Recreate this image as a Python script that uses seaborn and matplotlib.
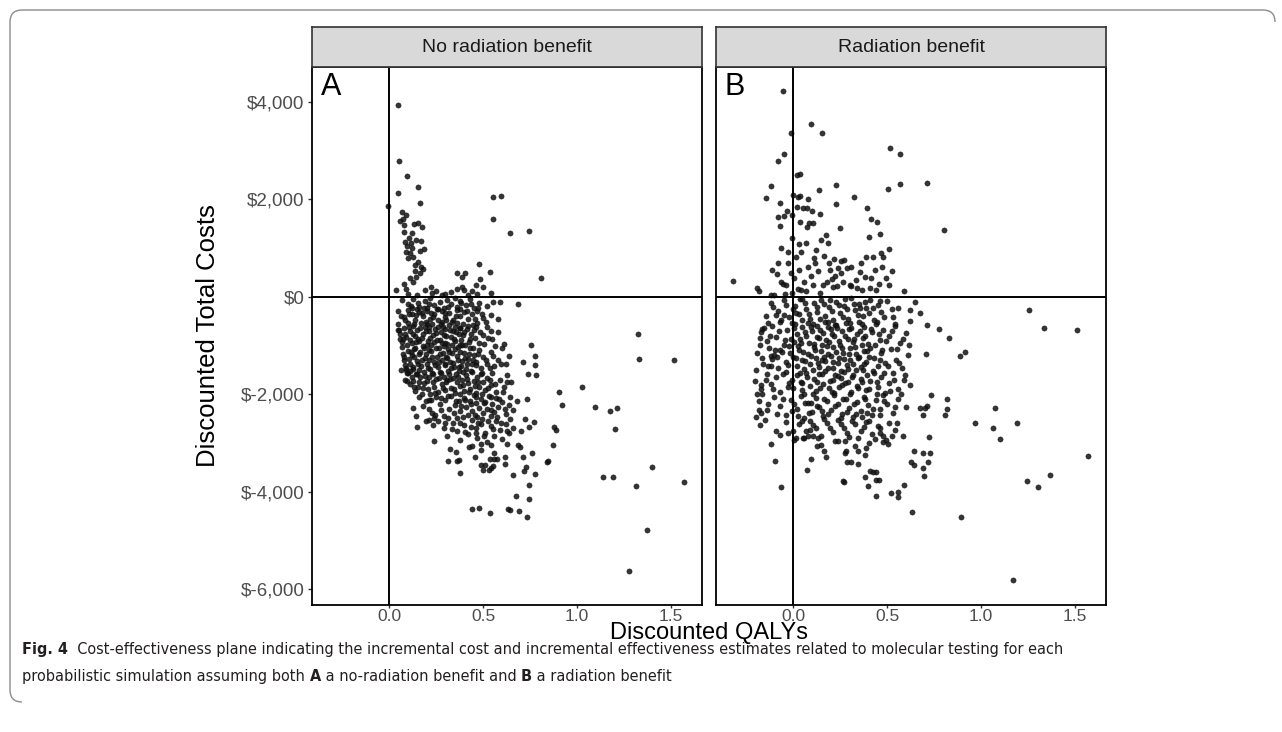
from __future__ import annotations

import matplotlib
matplotlib.use("Agg")
import matplotlib.pyplot as plt
import matplotlib.ticker as mticker
from matplotlib.patches import PathPatch
from matplotlib.path import Path as MPath
import pandas as pd
import seaborn as sns


W, H = 1282, 732

panels = ["No radiation benefit", "Radiation benefit"]
panel_letters = ["A", "B"]
x_ticks = [0.0, 0.5, 1.0, 1.5]
x_tick_labels = ["0.0", "0.5", "1.0", "1.5"]
y_ticks = [-6000, -4000, -2000, 0, 2000, 4000]

# Panel A: no radiation benefit (QALYs, cost)
no_rad_upper = [
    (0.05, 3930), (0.054, 2790), (0.097, 2480), (0.155, 2263), (0.045, 2127), (0.164, 1935),
    (-0.006, 1873), (0.552, 2058), (0.597, 2079), (0.552, 1594), (0.645, 1320), (0.744, 1354),
    (0.806, 383), (0.48, 671), (0.538, 506), (0.485, 363), (0.363, 486), (0.387, 417),
    (0.405, 499), (0.465, 246), (0.501, 199), (0.545, 82), (0.39, 200), (0.40, 130),
    (0.42, 30), (0.221, 211), (0.226, 88), (0.295, 55), (0.038, 144), (0.079, 267),
    (0.091, 157), (0.15, 40), (0.07, 1750), (0.088, 1670), (0.077, 1477), (0.079, 1340),
    (0.132, 1497), (0.153, 1525), (0.173, 1442), (0.123, 1306), (0.104, 1204), (0.084, 1134),
    (0.145, 1169), (0.169, 1155), (0.185, 991), (0.091, 929), (0.109, 909), (0.10, 794),
    (0.127, 827), (0.162, 937), (0.155, 718), (0.136, 540), (0.145, 417), (0.18, 568),
    (0.162, 486), (0.109, 384), (0.075, 1600), (0.095, 1050), (0.12, 1000), (0.14, 650),
    (0.17, 620), (0.06, 1550), (0.115, 1100), (0.13, 300), (0.19, 150), (0.10, 60),
    (0.25, 120), (0.33, 90), (0.28, 30), (0.36, 160), (0.44, 110), (0.47, 60),
]
no_rad_core = [
    (0.07, -60), (0.10, -150), (0.13, -40), (0.16, -200), (0.19, -90), (0.22, -30),
    (0.24, -170), (0.27, -110), (0.29, -220), (0.31, -60), (0.33, -140), (0.36, -200),
    (0.38, -80), (0.41, -160), (0.43, -40), (0.45, -230), (0.48, -120), (0.52, -190),
    (0.12, -230), (0.20, -240), (0.35, -20), (0.26, -250), (0.554, -109), (0.588, -109),
    (0.684, -144),
    (0.05, -300), (0.08, -420), (0.10, -280), (0.12, -360), (0.14, -470), (0.16, -310),
    (0.18, -400), (0.20, -290), (0.22, -450), (0.24, -350), (0.26, -480), (0.28, -300),
    (0.30, -410), (0.32, -330), (0.34, -470), (0.36, -280), (0.38, -390), (0.40, -320),
    (0.42, -460), (0.44, -360), (0.47, -300), (0.50, -430), (0.54, -380), (0.58, -460),
    (0.15, -260),
    (0.05, -560), (0.06, -760), (0.07, -920), (0.08, -640), (0.09, -830), (0.10, -540),
    (0.11, -710), (0.12, -950), (0.13, -600), (0.14, -800), (0.15, -680), (0.16, -900),
    (0.17, -530), (0.18, -770), (0.19, -620), (0.20, -980), (0.21, -700), (0.22, -850),
    (0.23, -560), (0.24, -930), (0.25, -740), (0.26, -610), (0.27, -880), (0.28, -520),
    (0.29, -790), (0.30, -660), (0.31, -960), (0.32, -580), (0.33, -820), (0.34, -700),
    (0.35, -900), (0.36, -540), (0.37, -760), (0.38, -640), (0.39, -980), (0.40, -720),
    (0.42, -600), (0.43, -870), (0.45, -680), (0.47, -540), (0.48, -940), (0.50, -780),
    (0.52, -620), (0.55, -860), (0.58, -720), (0.61, -960), (0.20, -560), (0.28, -950),
    (0.11, -880), (0.35, -610),
    (0.07, -1040), (0.08, -1290), (0.09, -1460), (0.10, -1120), (0.11, -1370), (0.12, -1200),
    (0.13, -1490), (0.14, -1060), (0.15, -1310), (0.16, -1180), (0.17, -1420), (0.18, -1010),
    (0.19, -1260), (0.20, -1390), (0.21, -1100), (0.22, -1480), (0.23, -1230), (0.24, -1340),
    (0.25, -1060), (0.26, -1450), (0.27, -1170), (0.28, -1300), (0.29, -1020), (0.30, -1410),
    (0.31, -1250), (0.32, -1130), (0.33, -1470), (0.34, -1360), (0.35, -1080), (0.36, -1210),
    (0.37, -1440), (0.38, -1000), (0.39, -1320), (0.40, -1150), (0.41, -1480), (0.42, -1270),
    (0.43, -1050), (0.44, -1390), (0.45, -1190), (0.46, -1330), (0.48, -1090), (0.49, -1460),
    (0.50, -1240), (0.52, -1370), (0.54, -1140), (0.56, -1420), (0.58, -1290), (0.60, -1050),
    (0.62, -1380), (0.64, -1210), (0.16, -1500),
    (0.10, -1560), (0.11, -1800), (0.12, -1650), (0.14, -1940), (0.15, -1590), (0.16, -1760),
    (0.18, -1880), (0.19, -1620), (0.20, -1730), (0.22, -1990), (0.23, -1570), (0.24, -1850),
    (0.25, -1690), (0.26, -1960), (0.27, -1540), (0.28, -1790), (0.29, -1640), (0.30, -1910),
    (0.31, -1710), (0.32, -1580), (0.33, -1870), (0.34, -1660), (0.35, -1980), (0.36, -1760),
    (0.37, -1530), (0.38, -1830), (0.39, -1700), (0.40, -1930), (0.41, -1600), (0.42, -1780),
    (0.43, -1890), (0.44, -1550), (0.45, -1720), (0.46, -1970), (0.47, -1640), (0.48, -1850),
    (0.49, -1580), (0.50, -1760), (0.51, -1920), (0.52, -1670), (0.54, -1820), (0.55, -1560),
    (0.57, -1950), (0.59, -1700), (0.61, -1860), (0.63, -1610), (0.65, -1750),
    (0.16, -2050), (0.18, -2250), (0.21, -2120), (0.23, -2380), (0.25, -2060), (0.27, -2200),
    (0.29, -2450), (0.30, -2110), (0.32, -2310), (0.33, -2040), (0.35, -2230), (0.36, -2480),
    (0.37, -2150), (0.38, -2340), (0.40, -2070), (0.41, -2260), (0.42, -2420), (0.43, -2130),
    (0.44, -2350), (0.45, -2010), (0.46, -2190), (0.47, -2470), (0.48, -2280), (0.49, -2090),
    (0.50, -2390), (0.51, -2170), (0.52, -2300), (0.53, -2030), (0.54, -2440), (0.55, -2210),
    (0.56, -2360), (0.57, -2080), (0.58, -2270), (0.60, -2160), (0.62, -2410), (0.64, -2230),
    (0.66, -2320), (0.68, -2140),
    (0.26, -2560), (0.29, -2700), (0.31, -2850), (0.34, -2600), (0.36, -2760), (0.38, -2950),
    (0.40, -2640), (0.42, -2820), (0.44, -2540), (0.46, -2700), (0.47, -2900), (0.49, -2610),
    (0.51, -2790), (0.52, -2980), (0.54, -2660), (0.56, -2850), (0.57, -2560), (0.59, -2730),
    (0.60, -2920), (0.62, -2620), (0.64, -2800), (0.66, -2700),
]
no_rad_dense = [
    (0.085, -480), (0.115, -190), (0.135, -560), (0.155, -120), (0.175, -330), (0.195, -520),
    (0.215, -150), (0.235, -420), (0.255, -260), (0.275, -560), (0.295, -340), (0.315, -200),
    (0.335, -520), (0.355, -390), (0.375, -250), (0.395, -560), (0.415, -300), (0.435, -150),
    (0.455, -460), (0.475, -220), (0.495, -350), (0.515, -520), (0.065, -400), (0.105, -350),
    (0.145, -380), (0.225, -330), (0.305, -470), (0.385, -120), (0.445, -580), (0.185, -230),
    (0.055, -680), (0.075, -860), (0.095, -1000), (0.105, -620), (0.125, -760), (0.135, -1080),
    (0.145, -930), (0.165, -640), (0.175, -840), (0.185, -1050), (0.195, -710), (0.205, -900),
    (0.215, -620), (0.225, -1000), (0.235, -780), (0.245, -660), (0.255, -880), (0.265, -1060),
    (0.275, -720), (0.285, -620), (0.295, -940), (0.305, -800), (0.315, -1080), (0.325, -680),
    (0.335, -990), (0.345, -860), (0.355, -730), (0.365, -1040), (0.375, -640), (0.385, -880),
    (0.395, -780), (0.405, -1000), (0.415, -660), (0.425, -930), (0.435, -760), (0.445, -1060),
    (0.455, -840), (0.465, -620), (0.485, -720), (0.505, -960), (0.525, -840), (0.545, -700),
    (0.565, -1020), (0.085, -760), (0.155, -860),
    (0.075, -1170), (0.085, -1400), (0.095, -1560), (0.105, -1280), (0.115, -1130), (0.125, -1450),
    (0.135, -1230), (0.145, -1590), (0.155, -1370), (0.165, -1140), (0.175, -1290), (0.185, -1540),
    (0.195, -1180), (0.205, -1460), (0.215, -1300), (0.225, -1120), (0.235, -1580), (0.245, -1410),
    (0.255, -1230), (0.265, -1340), (0.275, -1560), (0.285, -1150), (0.295, -1380), (0.305, -1240),
    (0.315, -1520), (0.325, -1330), (0.335, -1160), (0.345, -1450), (0.355, -1580), (0.365, -1300),
    (0.375, -1130), (0.385, -1420), (0.395, -1550), (0.405, -1250), (0.415, -1370), (0.425, -1180),
    (0.435, -1520), (0.445, -1290), (0.465, -1410), (0.475, -1180), (0.495, -1560), (0.515, -1300),
    (0.535, -1460), (0.555, -1220), (0.595, -1380),
    (0.125, -1720), (0.135, -1860), (0.165, -1650), (0.175, -2000), (0.185, -1780), (0.205, -1900),
    (0.215, -1640), (0.225, -2120), (0.235, -1760), (0.245, -1980), (0.265, -1660), (0.275, -2080),
    (0.285, -1870), (0.305, -1750), (0.315, -2040), (0.325, -1690), (0.345, -1900), (0.355, -2150),
    (0.365, -1640), (0.375, -2000), (0.395, -1820), (0.405, -2120), (0.415, -1690), (0.425, -1950),
    (0.435, -2200), (0.455, -1830), (0.465, -2060), (0.475, -1740), (0.495, -1990), (0.505, -2180),
    (0.525, -1880), (0.535, -1700), (0.545, -2060), (0.565, -1800), (0.585, -2100), (0.605, -1960),
    (0.625, -1760), (0.645, -2050), (0.195, -2150), (0.155, -1850),
    (0.215, -2300), (0.245, -2420), (0.275, -2330), (0.295, -2600), (0.315, -2480), (0.345, -2380),
    (0.375, -2600), (0.395, -2460), (0.405, -2780), (0.435, -2680), (0.455, -2420), (0.475, -2600),
    (0.495, -2500), (0.505, -2860), (0.525, -2560), (0.545, -2320), (0.555, -2720), (0.575, -2460),
    (0.595, -2600), (0.615, -2300), (0.625, -2760), (0.645, -2500), (0.385, -2240), (0.465, -2800),
    (0.335, -2720),
]
no_rad_tail = [
    (1.327, -766), (1.332, -1278), (1.517, -1299), (1.026, -1846), (1.098, -2256), (1.177, -2352),
    (1.212, -2277), (1.203, -2714), (0.902, -1949), (0.918, -2215), (0.88, -2680), (0.887, -2742),
    (0.871, -3042), (0.838, -3400), (0.845, -3380), (1.40, -3493), (1.137, -3698), (1.19, -3698),
    (1.313, -3883), (1.57, -3808), (1.37, -4785), (1.274, -5634), (0.443, -4354), (0.48, -4334),
    (0.535, -4437), (0.632, -4354), (0.645, -4383), (0.69, -4396), (0.733, -4518), (0.677, -4081),
    (0.742, -4163), (0.747, -3870), (0.774, -3637), (0.661, -3665), (0.719, -3583), (0.73, -3493),
    (0.758, -3214), (0.714, -3288), (0.618, -3425), (0.618, -3288), (0.733, -2092), (0.776, -1409),
    (0.781, -1600), (0.776, -1210), (0.738, -1579), (0.715, -1347), (0.756, -984), (0.724, -2502),
    (0.747, -2673), (0.77, -2578), (0.70, -2762), (0.685, -3049), (0.698, -3083), (0.629, -3021),
    (0.49, -3452), (0.51, -3460), (0.50, -3560), (0.53, -3560), (0.545, -3520), (0.555, -3480),
    (0.535, -3323), (0.556, -3323), (0.575, -3323), (0.455, -3296), (0.379, -3610), (0.311, -3378),
    (0.364, -3378), (0.373, -3343), (0.325, -3124), (0.357, -3193), (0.237, -2960), (0.15, -2666),
    (0.141, -2447), (0.125, -2283), (0.198, -2557), (0.215, -2537), (0.233, -2625), (0.24, -2488),
    (0.49, -3021), (0.49, -3152), (0.443, -3070), (0.424, -3091), (0.54, -3050), (0.56, -3200),
    (0.066, -1511), (0.088, -1511), (0.109, -1518), (0.084, -1717), (0.095, -1737), (0.045, -691),
    (0.056, -861), (0.077, -1237),
]

# Panel B: radiation benefit (QALYs, cost)
rad_upper = [
    (-0.056, 4219), (0.094, 3548), (0.154, 3357), (-0.012, 3357), (-0.049, 2933), (-0.078, 2790),
    (0.516, 3062), (0.569, 2927), (-0.12, 2277), (-0.145, 2037), (0.02, 2502), (0.039, 2517),
    (0.229, 2303), (0.139, 2188), (0.505, 2221), (0.568, 2324), (0.713, 2338), (0.803, 1374),
    (0.325, 2058), (0.229, 1914), (0.392, 1832), (0.415, 1600), (0.448, 1532), (0.25, 1415),
    (0.463, 1286), (0.404, 1224), (0.51, 978), (-0.319, 328), (-0.193, 171), (-0.181, 109),
    (0.589, 123),
    (-0.069, 1921), (-0.080, 1634), (-0.067, 1463), (-0.046, 1661), (-0.032, 1771), (-0.004, 1682),
    (0.0, 2092), (0.027, 2058), (0.039, 2072), (0.023, 1853), (0.053, 1819), (0.082, 2017),
    (0.076, 1832), (0.099, 1771), (0.145, 1696), (0.085, 1511), (0.035, 1531), (0.074, 1443),
    (0.106, 1511), (-0.066, 1012), (-0.028, 923), (-0.080, 691), (-0.110, 554), (-0.028, 704),
    (-0.011, 485), (-0.007, 1217), (0.044, 916), (0.071, 1114), (0.032, 1087), (0.121, 964),
    (0.110, 807), (0.147, 1162), (0.174, 1272), (0.186, 1108), (0.131, 520), (0.080, 608),
    (0.032, 554), (0.057, 294), (0.115, 691), (0.190, 691), (0.220, 779), (0.254, 738),
    (0.271, 759), (0.239, 588), (0.222, 431), (0.195, 554), (0.307, 622), (0.362, 704),
    (0.387, 820), (0.427, 820), (0.468, 896), (0.479, 814), (0.438, 547), (0.385, 417),
    (0.493, 376), (0.511, 246), (0.440, 144), (0.410, 178), (0.369, 144), (0.340, 171),
    (0.310, 212), (0.301, 246), (0.266, 294), (0.236, 212), (0.213, 198), (0.181, 314),
    (0.160, 239), (0.106, 239), (0.071, 116), (0.044, 144), (0.025, 157), (-0.062, 308),
    (-0.053, 273), (-0.115, 41), (-0.101, 41), (-0.044, 55), (-0.004, 75), (0.142, 75),
    (0.005, 380), (0.015, 820), (0.095, 420), (0.165, 830), (0.255, 480), (0.285, 600),
    (0.335, 340), (0.355, 500), (0.415, 380), (0.455, 260), (0.475, 620), (0.525, 520),
    (-0.035, 250), (-0.085, 460), (0.205, 360),
]
rad_core = [
    (-0.12, -120), (-0.08, -300), (-0.05, -60), (-0.02, -420), (0.01, -180), (0.03, -350),
    (0.05, -40), (0.07, -260), (0.09, -460), (0.11, -130), (0.13, -310), (0.15, -70),
    (0.17, -400), (0.19, -210), (0.21, -480), (0.23, -100), (0.25, -330), (0.27, -190),
    (0.29, -450), (0.31, -30), (0.33, -280), (0.35, -140), (0.37, -390), (0.39, -240),
    (0.41, -60), (0.43, -470), (0.45, -170), (0.47, -320), (0.50, -90), (0.53, -410),
    (0.56, -220), (0.0, -250),
    (-0.17, -720), (-0.14, -900), (-0.11, -600), (-0.09, -830), (-0.07, -520), (-0.05, -980),
    (-0.03, -690), (-0.01, -860), (0.01, -560), (0.02, -770), (0.04, -940), (0.05, -630),
    (0.07, -810), (0.08, -530), (0.10, -700), (0.11, -960), (0.13, -600), (0.14, -850),
    (0.16, -740), (0.17, -510), (0.19, -920), (0.20, -660), (0.22, -800), (0.23, -580),
    (0.25, -990), (0.26, -710), (0.28, -540), (0.29, -870), (0.31, -650), (0.32, -930),
    (0.34, -760), (0.35, -520), (0.37, -840), (0.38, -620), (0.40, -970), (0.42, -730),
    (0.44, -560), (0.46, -890), (0.48, -680), (0.51, -800), (0.54, -590), (0.57, -940),
    (0.60, -750),
    (-0.19, -1150), (-0.16, -1380), (-0.13, -1060), (-0.11, -1270), (-0.08, -1460), (-0.06, -1130),
    (-0.04, -1330), (-0.02, -1020), (0.00, -1240), (0.02, -1420), (0.03, -1090), (0.05, -1300),
    (0.06, -1490), (0.08, -1180), (0.09, -1370), (0.11, -1040), (0.12, -1250), (0.14, -1440),
    (0.15, -1110), (0.17, -1320), (0.18, -1010), (0.20, -1210), (0.21, -1470), (0.23, -1140),
    (0.24, -1360), (0.26, -1060), (0.27, -1280), (0.29, -1480), (0.30, -1170), (0.32, -1390),
    (0.33, -1030), (0.35, -1230), (0.36, -1450), (0.38, -1120), (0.39, -1340), (0.41, -1050),
    (0.43, -1260), (0.45, -1430), (0.47, -1150), (0.49, -1350), (0.52, -1080), (0.55, -1290),
    (0.58, -1460), (0.61, -1190),
    (-0.20, -1720), (-0.17, -1900), (-0.14, -1580), (-0.12, -1800), (-0.09, -1650), (-0.07, -1960),
    (-0.04, -1540), (-0.02, -1770), (0.00, -1880), (0.02, -1610), (0.04, -1740), (0.06, -1990),
    (0.07, -1560), (0.09, -1830), (0.11, -1680), (0.12, -1930), (0.14, -1590), (0.16, -1790),
    (0.17, -1520), (0.19, -1870), (0.21, -1700), (0.22, -1970), (0.24, -1630), (0.26, -1810),
    (0.27, -1550), (0.29, -1750), (0.31, -1950), (0.32, -1600), (0.34, -1840), (0.36, -1680),
    (0.37, -1510), (0.39, -1910), (0.41, -1730), (0.43, -1570), (0.45, -1860), (0.47, -1650),
    (0.49, -1980), (0.51, -1780), (0.53, -1560), (0.56, -1890), (0.59, -1700), (0.62, -1820),
    (-0.18, -2150), (-0.14, -2330), (-0.10, -2060), (-0.07, -2240), (-0.04, -2430), (-0.01, -2110),
    (0.02, -2300), (0.04, -2040), (0.06, -2480), (0.08, -2180), (0.10, -2360), (0.12, -2070),
    (0.14, -2270), (0.16, -2450), (0.18, -2130), (0.20, -2320), (0.22, -2020), (0.24, -2210),
    (0.26, -2400), (0.28, -2090), (0.30, -2280), (0.32, -2470), (0.34, -2160), (0.36, -2350),
    (0.38, -2050), (0.40, -2230), (0.42, -2420), (0.44, -2120), (0.46, -2310), (0.48, -2010),
    (0.50, -2200), (0.53, -2380), (0.56, -2100), (0.60, -2260),
    (-0.04, -2580), (0.00, -2760), (0.03, -2620), (0.06, -2900), (0.09, -2560), (0.12, -2700),
    (0.15, -2850), (0.18, -2600), (0.21, -2780), (0.24, -2540), (0.27, -2690), (0.30, -2880),
    (0.33, -2620), (0.36, -2750), (0.39, -2570), (0.42, -2820), (0.45, -2660), (0.48, -2980),
    (0.51, -2590), (0.54, -2740),
]
rad_dense = [
    (-0.145, -400), (-0.105, -200), (-0.065, -480), (-0.035, -160), (-0.005, -540), (0.015, -330),
    (0.045, -470), (0.065, -120), (0.085, -360), (0.105, -560), (0.125, -210), (0.145, -450),
    (0.165, -150), (0.185, -520), (0.205, -300), (0.225, -580), (0.245, -160), (0.265, -420),
    (0.285, -260), (0.305, -540), (0.325, -150), (0.345, -380), (0.365, -560), (0.385, -100),
    (0.405, -330), (0.425, -220), (0.445, -520), (0.465, -80), (0.485, -420), (0.525, -260),
    (0.545, -560), (0.035, -40), (0.195, -60), (0.275, -40), (0.355, -240),
    (-0.175, -980), (-0.155, -640), (-0.125, -800), (-0.095, -1100), (-0.075, -700), (-0.045, -880),
    (-0.015, -1160), (0.005, -640), (0.025, -1020), (0.035, -860), (0.055, -1140), (0.065, -720),
    (0.085, -940), (0.095, -620), (0.115, -1100), (0.125, -820), (0.145, -680), (0.155, -1000),
    (0.175, -880), (0.185, -1180), (0.205, -760), (0.215, -1040), (0.235, -640), (0.245, -900),
    (0.265, -1150), (0.275, -800), (0.295, -660), (0.305, -1060), (0.325, -860), (0.335, -1180),
    (0.355, -700), (0.365, -980), (0.385, -800), (0.395, -1120), (0.415, -660), (0.435, -1000),
    (0.455, -760), (0.475, -1100), (0.495, -900), (0.525, -700), (0.555, -1080), (0.585, -860),
    (0.615, -1000), (0.185, -620), (0.005, -920),
    (-0.195, -1500), (-0.165, -1260), (-0.145, -1700), (-0.115, -1420), (-0.085, -1240), (-0.055, -1580),
    (-0.025, -1400), (-0.005, -1700), (0.015, -1260), (0.035, -1560), (0.045, -1780), (0.065, -1320),
    (0.075, -1640), (0.095, -1220), (0.105, -1500), (0.125, -1740), (0.135, -1360), (0.155, -1580),
    (0.165, -1230), (0.185, -1460), (0.195, -1720), (0.215, -1340), (0.225, -1600), (0.245, -1250),
    (0.255, -1520), (0.275, -1780), (0.285, -1400), (0.305, -1300), (0.315, -1640), (0.335, -1500),
    (0.345, -1260), (0.365, -1740), (0.375, -1380), (0.395, -1600), (0.405, -1240), (0.425, -1520),
    (0.445, -1760), (0.465, -1300), (0.485, -1560), (0.505, -1420), (0.535, -1700), (0.565, -1360),
    (0.595, -1600), (0.255, -1660), (0.155, -1300),
    (-0.165, -2000), (-0.135, -2200), (-0.105, -1900), (-0.085, -2400), (-0.055, -2100), (-0.025, -1860),
    (0.005, -2200), (0.025, -2440), (0.045, -1920), (0.065, -2180), (0.085, -2380), (0.105, -2000),
    (0.125, -2250), (0.145, -1880), (0.165, -2100), (0.185, -2400), (0.205, -1960), (0.225, -2240),
    (0.245, -1860), (0.265, -2100), (0.285, -2360), (0.305, -2000), (0.325, -2200), (0.345, -1880),
    (0.365, -2460), (0.385, -2100), (0.405, -1900), (0.425, -2300), (0.445, -2000), (0.465, -2420),
    (0.485, -2140), (0.515, -1940), (0.545, -2260), (0.575, -2000), (0.155, -2340), (0.255, -2480),
    (0.335, -2400), (0.095, -2180), (0.395, -2380), (-0.005, -2340),
    (0.015, -2900), (0.045, -2560), (0.105, -2640), (0.135, -2900), (0.165, -2520), (0.195, -2700),
    (0.225, -2960), (0.255, -2620), (0.285, -2800), (0.315, -2560), (0.345, -2900), (0.375, -2680),
    (0.405, -2560), (0.435, -2920), (0.465, -2700), (0.525, -2860), (0.555, -2600), (-0.025, -2800),
]
rad_tail = [
    (1.255, -273), (1.333, -650), (1.512, -677), (0.778, -656), (0.832, -841), (0.651, -103),
    (0.674, -335), (0.713, -574), (0.622, -267), (0.622, -492), (0.706, -1169), (0.887, -1224),
    (0.913, -1142), (-0.165, -663), (-0.177, -848), (-0.133, -540), (-0.092, -369), (-0.046, -369),
    (-0.115, -1210), (-0.103, -1203), (-0.071, -1087), (1.076, -2290), (0.970, -2591), (1.066, -2687),
    (1.099, -2926), (1.19, -2591), (1.569, -3261), (1.369, -3665), (1.243, -3774), (1.305, -3897),
    (1.168, -5825), (0.894, -4526), (0.631, -4423), (0.819, -2099), (0.819, -2304), (0.809, -2434),
    (0.732, -2024), (0.713, -2236), (0.691, -2434), (0.677, -2277), (0.702, -2277), (0.723, -2885),
    (0.642, -3159), (0.691, -3214), (0.730, -3200), (0.718, -3398), (0.693, -3521), (0.695, -3672),
    (0.628, -3391), (0.645, -3460), (0.592, -3856), (0.585, -2865), (0.52, -4027), (0.559, -4013),
    (0.560, -4109), (0.441, -4082), (0.399, -3877), (0.383, -3706), (0.408, -3583), (0.426, -3596),
    (0.443, -3603), (0.457, -3761), (0.443, -3761), (0.266, -3774), (0.27, -3809), (0.287, -3398),
    (0.310, -3398), (0.348, -3439), (0.074, -3548), (0.098, -3323), (0.176, -3282), (0.167, -3173),
    (-0.062, -3911), (-0.098, -3377), (-0.117, -3015), (-0.071, -2844), (-0.089, -2762), (0.005, -2947),
    (0.053, -2899), (0.080, -2865), (0.106, -2851), (0.071, -2762), (0.092, -2728), (0.128, -3070),
    (0.147, -3050), (0.238, -2954), (0.278, -2967), (0.284, -3159), (0.275, -3200), (0.328, -3056),
    (0.346, -3173), (0.381, -3241), (0.390, -3104), (0.404, -3001), (0.479, -2865), (0.496, -2933),
    (0.505, -3022), (0.461, -2796), (-0.190, -2003), (-0.181, -2331), (-0.168, -2386), (-0.195, -2475),
    (-0.177, -2625), (-0.151, -2536), (-0.168, -1812), (-0.131, -1415),
]

caption_line1 = [("Fig. 4", "bold"), ("  Cost-effectiveness plane indicating the incremental cost and incremental "
                  "effectiveness estimates related to molecular testing for each", "normal")]
caption_line2 = [("probabilistic simulation assuming both ", "normal"), ("A", "bold"),
                 (" a no-radiation benefit and ", "normal"), ("B", "bold"), (" a radiation benefit", "normal")]


def frac_x(px):
    return px / W


def frac_y(py):
    return 1 - py / H


def draw_runs(fig, x_px, y_px, runs, size, family):
    renderer = fig.canvas.get_renderer()
    x = x_px
    for text, weight in runs:
        t = fig.text(frac_x(x), frac_y(y_px), text, fontsize=size, fontweight=weight,
                     family=family, stretch="condensed", va="baseline", ha="left", color="#231f20")
        x += t.get_window_extent(renderer).width
    return x - x_px


def main() -> None:
    sns.set_theme(style="ticks")
    plt.rcParams["font.family"] = ["Liberation Sans", "DejaVu Sans"]

    rows = []
    for name, groups in [(panels[0], [no_rad_upper, no_rad_core, no_rad_dense, no_rad_tail]),
                         (panels[1], [rad_upper, rad_core, rad_dense, rad_tail])]:
        for g in groups:
            for q, c in g:
                rows.append({"scenario": name, "qaly": q, "cost": c})
    df = pd.DataFrame(rows)

    fig = plt.figure(figsize=(W / 100, H / 100), dpi=100)
    fig.patch.set_facecolor("white")

    lefts = [312, 716]
    width = 390
    top, bottom = 67, 605
    strip_top = 27
    for i, (name, letter) in enumerate(zip(panels, panel_letters)):
        ax = fig.add_axes([frac_x(lefts[i]), frac_y(bottom), width / W, (bottom - top) / H])
        sub = df[df["scenario"] == name]
        sns.scatterplot(data=sub, x="qaly", y="cost", ax=ax, s=14, color="#111111",
                        alpha=0.85, edgecolor="#111111", linewidth=0.4, legend=False)
        ax.axhline(0, color="black", lw=1.4, zorder=1)
        ax.axvline(0, color="black", lw=1.4, zorder=1)
        ax.set_xlim(-0.41, 1.665)
        ax.set_ylim(-6330, 4720)
        ax.set_xticks(x_ticks)
        ax.set_xticklabels(x_tick_labels)
        ax.set_yticks(y_ticks)
        ax.yaxis.set_major_formatter(mticker.FuncFormatter(lambda v, _: f"${v:,.0f}"))
        ax.set_xlabel("")
        ax.set_ylabel("")
        for sp in ax.spines.values():
            sp.set_visible(True)
            sp.set_color("black")
            sp.set_linewidth(1.3)
        ax.tick_params(direction="out", length=2.5, width=1, color="#333333",
                       labelcolor="#4d4d4d", labelsize=12.5, pad=0.5)
        ax.tick_params(axis="y", length=3, labelsize=13.5, pad=2.5)
        if i == 1:
            ax.tick_params(left=False, labelleft=False)
        ax.text(0.022, 0.99, letter, transform=ax.transAxes, ha="left", va="top",
                fontsize=22, color="black")

        sax = fig.add_axes([frac_x(lefts[i]), frac_y(top), width / W, (top - strip_top) / H])
        sax.set_facecolor("#d9d9d9")
        sax.set_xticks([])
        sax.set_yticks([])
        for sp in sax.spines.values():
            sp.set_color("#333333")
            sp.set_linewidth(1.2)
        sax.text(0.5, 0.5, name, ha="center", va="center", fontsize=14, color="#1a1a1a",
                 transform=sax.transAxes)

    fig.text(frac_x(709), frac_y(639), "Discounted QALYs", ha="center", va="baseline",
             fontsize=17, color="black")
    fig.text(frac_x(208), frac_y(336), "Discounted Total Costs", ha="center", va="center",
             rotation=90, fontsize=18.5, color="black")

    # Journal frame
    r = 12
    verts = [(1275, 10 + r), (1275, 10), (1275 - r, 10), (10 + r, 10), (10, 10), (10, 10 + r),
             (10, 702 - r), (10, 702), (10 + r, 702)]
    codes = [MPath.MOVETO, MPath.CURVE3, MPath.CURVE3, MPath.LINETO, MPath.CURVE3, MPath.CURVE3,
             MPath.LINETO, MPath.CURVE3, MPath.CURVE3]
    verts = [(frac_x(x), frac_y(y)) for x, y in verts]
    fig.patches.append(PathPatch(MPath(verts, codes), transform=fig.transFigure, fill=False,
                                 edgecolor="#8c8c8c", lw=1.0))

    # Caption: fit the first line to the reference width.
    cap_font = ["Liberation Sans Narrow", "DejaVu Sans"]
    probe = plt.figure(figsize=(W / 100, H / 100), dpi=100)
    probe_width = draw_runs(probe, 0, 100, caption_line1, 13, cap_font)
    plt.close(probe)
    cap_size = min(13.0, 13.0 * 1040 / probe_width)
    draw_runs(fig, 22, 654, caption_line1, cap_size, cap_font)
    draw_runs(fig, 22, 681, caption_line2, cap_size, cap_font)

    fig.savefig("out.png", dpi=100)
    plt.close(fig)


if __name__ == "__main__":
    main()
